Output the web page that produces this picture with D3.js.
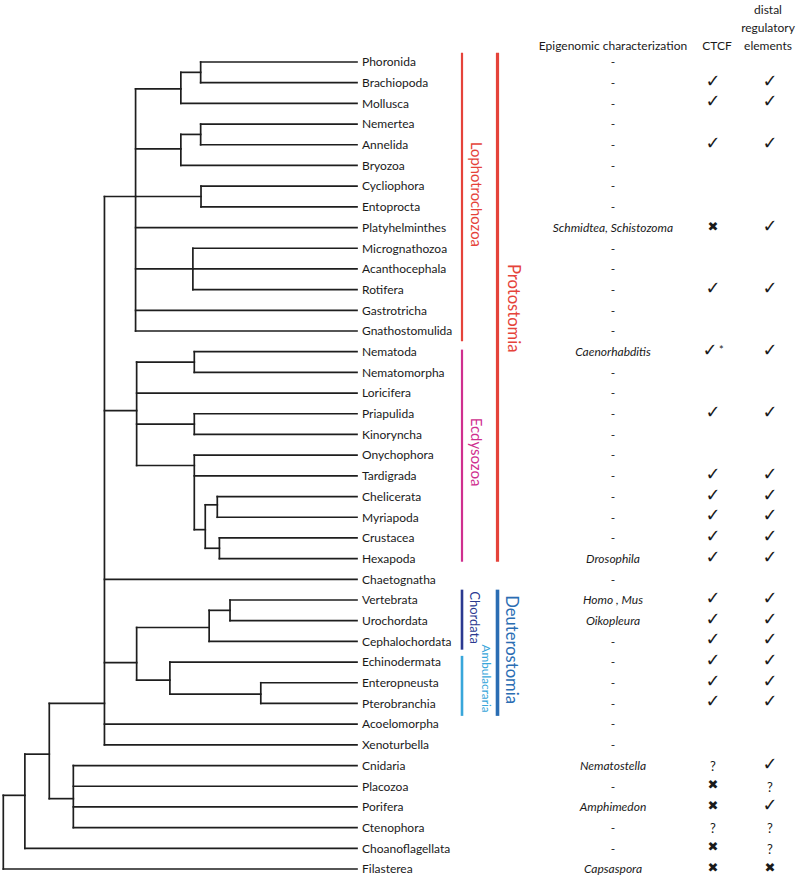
<!DOCTYPE html>
<html>
<head>
<meta charset="utf-8">
<script src="https://cdn.jsdelivr.net/npm/d3@7"></script>
<style>
  html, body { margin: 0; padding: 0; background: #fff; }
  svg { display: block; }
  text { font-family: Lato, "Open Sans", sans-serif; fill: #1a1a1a; }
</style>
</head>
<body>
<svg id="chart" width="800" height="879"></svg>
<script>
// ---------------- DATA ----------------
const leaves = ["Phoronida","Brachiopoda","Mollusca","Nemertea","Annelida","Bryozoa","Cycliophora","Entoprocta",
  "Platyhelminthes","Micrognathozoa","Acanthocephala","Rotifera","Gastrotricha","Gnathostomulida",
  "Nematoda","Nematomorpha","Loricifera","Priapulida","Kinoryncha","Onychophora","Tardigrada","Chelicerata",
  "Myriapoda","Crustacea","Hexapoda","Chaetognatha","Vertebrata","Urochordata","Cephalochordata",
  "Echinodermata","Enteropneusta","Pterobranchia","Acoelomorpha","Xenoturbella","Cnidaria","Placozoa",
  "Porifera","Ctenophora","Choanoflagellata","Filasterea"];

// parent clade of each leaf (same order as leaves)
const leafParents = ["PB","PB","PBM","NA","NA","NAB","CE","CE",
  "Lophotrochozoa","MAR","MAR","MAR","Lophotrochozoa","Lophotrochozoa",
  "NN","NN","Ecdysozoa","PK","PK","Panarthropoda","Panarthropoda","CM",
  "CM","CH","CH","Bilateria","VU","VU","Chordata",
  "Ambulacraria","EP","EP","Bilateria","Bilateria","Cnidaria+","Cnidaria+",
  "Cnidaria+","Cnidaria+","Choanozoa","Holozoa"];

// internal clades: parent, branching depth (0 = root, 100 = tips), row position (in leaf rows)
const cladeIds     = ["Holozoa","Choanozoa","Metazoa","Cnidaria+","Bilateria","Lophotrochozoa","PBM","PB","NAB","NA","CE","MAR",
                      "Ecdysozoa","NN","PK","Panarthropoda","Arthropoda","CM","CH","Deuterostomia","Chordata","VU","Ambulacraria","EP"];
const cladeParents = [null,"Holozoa","Choanozoa","Metazoa","Metazoa","Bilateria","Lophotrochozoa","PBM","Lophotrochozoa","NAB","Lophotrochozoa","Lophotrochozoa",
                      "Bilateria","Ecdysozoa","Ecdysozoa","Ecdysozoa","Panarthropoda","Arthropoda","Arthropoda","Bilateria","Deuterostomia","Chordata","Deuterostomia","Ambulacraria"];
const cladeDepths  = [0, 6.1, 13.0, 19.8, 28.6, 37.4, 50.2, 55.8, 50.2, 55.8, 55.9, 53.6,
                      37.7, 54.0, 54.0, 54.0, 57.1, 60.5, 61.1, 37.7, 58.2, 64.1, 47.1, 72.8];
const cladeRows    = [37.2, 35.44, 33.45, 35.6, 31.0, 6.5, 1.3, 0.5, 4.2, 3.5, 6.5, 10,
                      16.85, 14.5, 17.5, 19.5, 22.6, 21.4, 23.5, 29.03, 27.33, 26.5, 29.87, 30.55];

const epigenomic = ["-","-","-","-","-","-","-","-",
  "Schmidtea, Schistozoma","-","-","-","-","-",
  "Caenorhabditis","-","-","-","-","-","-","-",
  "-","-","Drosophila","-","Homo , Mus","Oikopleura","-",
  "-","-","-","-","-","Nematostella","-",
  "Amphimedon","-","-","Capsaspora"];
// y = present, n = absent, ? = unknown, "" = no entry, y* = present with note
const ctcf = ["","y","y","","y","","","",
  "n","","","y","","",
  "y*","","","y","","","y","y",
  "y","y","y","","y","y","y",
  "y","y","y","","","?","n",
  "n","?","n","n"];
const distal = ["","y","y","","y","","","",
  "y","","","y","","",
  "y","","","y","","","y","y",
  "y","y","y","","y","y","y",
  "y","y","y","","","y","?",
  "y","?","?","n"];

const columnKeys = ["epi","ctcf","distal"];
const headerEpi = ["Epigenomic characterization"];
const headerCtcf = ["CTCF"];
const headerDistal = ["distal","regulatory","elements"];

// bracketed groups: name, leaf-row extent, label row, level (1 = inner, 2 = outer)
const groupNames  = ["Lophotrochozoa","Ecdysozoa","Protostomia","Chordata","Ambulacraria","Deuterostomia"];
const groupStart  = [-0.45, 13.9, -0.45, 25.5, 28.7, 25.5];
const groupEnd    = [13.5, 24.15, 24.15, 28.4, 31.6, 31.6];
const groupLabelRow = [6.4, 18.85, 11.9, 26.85, 29.8, 28.4];
const groupLevel  = [1, 1, 2, 1, 1, 2];
const groupColors = ["#e5433a","#cf2f8f","#e5433a","#2b3990","#38a6da","#2a6db3"];

// ---------------- DRAW ----------------
const svg = d3.select("#chart");

const y = d3.scaleLinear().domain([0, leaves.length - 1]).range([62, 869]);
const x = d3.scaleLinear().domain([0, 100]).range([3.3, 357]);
const colX = d3.scaleOrdinal().domain(columnKeys).range([613, 713, 770]);

// build hierarchy
const table = cladeIds.map((id, i) => ({id, parent: cladeParents[i], depthVal: cladeDepths[i], row: cladeRows[i]}))
  .concat(leaves.map((name, i) => ({id: name, parent: leafParents[i], depthVal: 100, row: i})));
const root = d3.stratify().id(d => d.id).parentId(d => d.parent)(table);
root.each(n => { n.px = x(n.data.depthVal); n.py = y(n.data.row); });

const tree = svg.append("g")
  .attr("fill", "none").attr("stroke", "#1e1e1e").attr("stroke-width", 1.7)
  .attr("stroke-linecap", "square");

// vertical connectors
tree.selectAll("path.v")
  .data(root.descendants().filter(n => n.children))
  .join("path").attr("class", "v")
  .attr("d", n => {
    const ys = n.children.map(c => c.py);
    return `M${n.px},${d3.min(ys)}V${d3.max(ys)}`;
  });
// horizontal branches
tree.selectAll("path.h")
  .data(root.descendants().filter(n => n.parent))
  .join("path").attr("class", "h")
  .attr("d", n => `M${n.parent.px},${n.py}H${n.px}`);

// leaf labels
svg.append("g").selectAll("text")
  .data(leaves)
  .join("text")
  .attr("x", 362)
  .attr("y", (d, i) => y(i))
  .attr("dy", "0.36em")
  .attr("font-size", 12)
  .text(d => d);

// group brackets
const levelX = {1: 462, 2: 497.5};
const groups = groupNames.map((name, i) => ({name, s: groupStart[i], e: groupEnd[i], lr: groupLabelRow[i], lv: groupLevel[i], c: groupColors[i]}));
const labelStyle = {
  "Lophotrochozoa": {dx: 15, fs: 14.8, w: 2.2},
  "Ecdysozoa": {dx: 15, fs: 15, w: 2.2},
  "Protostomia": {dx: 16, fs: 16.6, w: 3.2},
  "Chordata": {dx: 13, fs: 13, w: 2.6},
  "Ambulacraria": {dx: 24, fs: 11.8, w: 2.6},
  "Deuterostomia": {dx: 14.5, fs: 16.6, w: 3.6}
};
const gg = svg.append("g");
gg.selectAll("line")
  .data(groups).join("line")
  .attr("x1", d => levelX[d.lv]).attr("x2", d => levelX[d.lv])
  .attr("y1", d => y(d.s)).attr("y2", d => y(d.e))
  .attr("stroke", d => d.c)
  .attr("stroke-width", d => labelStyle[d.name].w);
gg.selectAll("text")
  .data(groups).join("text")
  .attr("transform", d => `translate(${levelX[d.lv] + labelStyle[d.name].dx},${y(d.lr)}) rotate(90)`)
  .attr("text-anchor", "middle")
  .attr("dominant-baseline", "central")
  .attr("font-size", d => labelStyle[d.name].fs)
  .style("fill", d => d.c)
  .text(d => d.name);

// headers
const hg = svg.append("g").attr("font-size", 12).attr("text-anchor", "middle");
hg.append("text").attr("x", colX("epi")).attr("y", 50).text(headerEpi[0]);
hg.append("text").attr("x", 717).attr("y", 50).text(headerCtcf[0]);
hg.selectAll("text.dist").data(headerDistal).join("text").attr("class", "dist")
  .attr("x", 768).attr("y", (d, i) => 14 + i * 18).text(d => d);

// epigenomic column
svg.append("g").selectAll("text")
  .data(epigenomic).join("text")
  .attr("x", colX("epi"))
  .attr("y", (d, i) => y(i))
  .attr("dy", "0.36em")
  .attr("text-anchor", "middle")
  .attr("font-size", 12)
  .attr("font-style", d => d === "-" ? "normal" : "italic")
  .text(d => d);

// symbol columns
function drawSymbols(values, key) {
  const g = svg.append("g");
  values.forEach((v, i) => {
    if (!v) return;
    const cx = colX(key), cy = y(i);
    if (v === "y" || v === "y*") {
      g.append("text")
        .attr("x", v === "y*" ? cx - 3 : cx).attr("y", cy - 2.5).attr("dy", "0.36em")
        .attr("text-anchor", "middle")
        .style("font-family", "'DejaVu Sans', sans-serif")
        .attr("font-weight", "bold")
        .attr("font-size", 18)
        .text("\u2713");
      if (v === "y*") {
        g.append("text").attr("x", cx + 6).attr("y", cy - 2)
          .attr("dy", "0.36em").attr("font-size", 11)
          .text("*");
      }
    } else if (v === "n") {
      g.append("text")
        .attr("x", cx).attr("y", cy - 1.5).attr("dy", "0.36em")
        .attr("text-anchor", "middle")
        .style("font-family", "'DejaVu Sans', sans-serif")
        .attr("font-size", 13)
        .text("\u2716");
    } else if (v === "?") {
      g.append("text")
        .attr("x", cx).attr("y", cy + 1).attr("dy", "0.36em")
        .attr("text-anchor", "middle")
        .attr("font-size", 13)
        .text("?");
    }
  });
}
drawSymbols(ctcf, "ctcf");
drawSymbols(distal, "distal");
</script>
</body>
</html>
